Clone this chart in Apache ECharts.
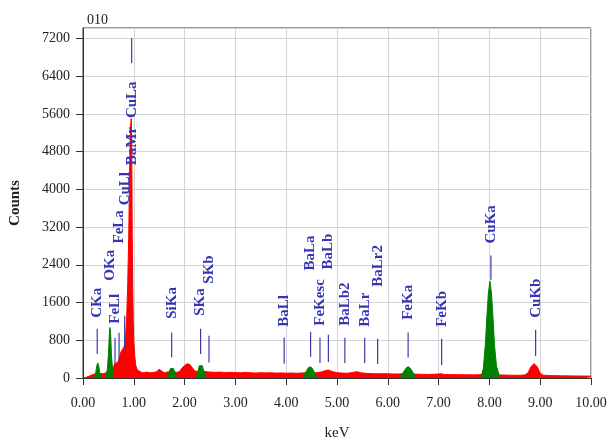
<!DOCTYPE html>
<html>
<head>
<meta charset="utf-8">
<script src="https://cdn.jsdelivr.net/npm/echarts@6/dist/echarts.min.js"></script>
<style>
html,body{margin:0;padding:0;background:#fff;}
#chart{width:609px;height:442px;}
</style>
</head>
<body>
<div id="chart"></div>
<script>
// ---- data ----
var title = '010';
var xTickLabels = ['0.00','1.00','2.00','3.00','4.00','5.00','6.00','7.00','8.00','9.00','10.00'];
var yTicks = [0,800,1600,2400,3200,4000,4800,5600,6400,7200];

// full spectrum (red): [keV, counts]
var spectrum = [
 [0.00,0],[0.05,10],[0.10,30],[0.15,55],[0.20,75],[0.25,90],[0.30,100],[0.35,95],[0.40,90],
 [0.45,110],[0.50,120],[0.55,130],[0.58,170],[0.60,220],[0.62,300],[0.65,320],[0.68,330],
 [0.70,380],[0.72,450],[0.75,560],[0.78,600],[0.80,640],[0.82,700],[0.84,900],[0.86,1300],
 [0.88,2000],[0.90,3000],[0.91,3800],[0.92,4600],[0.935,5300],[0.95,5500],[0.96,4800],
 [0.97,3000],[0.98,1900],[0.99,1200],[1.00,800],[1.02,450],[1.04,260],[1.07,170],[1.10,130],
 [1.15,120],[1.20,110],[1.25,125],[1.30,110],[1.35,115],[1.40,120],[1.45,135],[1.50,185],
 [1.53,200],[1.56,140],[1.60,110],[1.65,125],[1.70,130],[1.75,140],[1.80,130],[1.85,120],
 [1.90,140],[1.95,210],[2.00,265],[2.05,300],[2.10,290],[2.15,220],[2.20,150],[2.25,140],
 [2.30,150],[2.35,150],[2.40,140],[2.45,130],[2.50,125],[2.60,120],[2.70,125],[2.80,115],
 [2.90,120],[3.00,115],[3.10,110],[3.20,118],[3.30,110],[3.40,105],[3.50,112],[3.60,108],
 [3.70,110],[3.80,104],[3.90,108],[4.00,102],[4.10,106],[4.20,100],[4.30,105],[4.40,115],
 [4.50,120],[4.60,110],[4.70,130],[4.78,160],[4.83,170],[4.90,140],[5.00,110],[5.10,105],
 [5.20,100],[5.30,115],[5.39,135],[5.47,110],[5.60,95],[5.70,92],[5.80,90],[5.90,92],
 [6.00,88],[6.10,86],[6.20,85],[6.30,90],[6.40,95],[6.50,85],[6.60,80],[6.70,78],[6.80,76],
 [6.90,78],[7.00,85],[7.05,88],[7.12,75],[7.20,72],[7.30,70],[7.40,70],[7.50,68],[7.60,68],
 [7.70,66],[7.80,70],[7.90,80],[8.00,90],[8.10,80],[8.20,65],[8.30,62],[8.40,60],[8.50,58],
 [8.60,58],[8.70,65],[8.76,110],[8.82,240],[8.88,305],[8.94,240],[9.00,100],[9.06,60],
 [9.20,52],[9.30,50],[9.40,48],[9.50,46],[9.60,45],[9.70,44],[9.80,42],[9.90,42],[10.00,40]
];

// identified peaks (green): [keV, counts]
var peakCKa  = [[0.22,0],[0.25,110],[0.27,250],[0.29,320],[0.31,250],[0.33,110],[0.36,0]];
var peakOKa  = [[0.45,0],[0.48,200],[0.50,500],[0.52,950],[0.53,1070],[0.545,900],[0.56,500],[0.58,200],[0.60,0]];
var peakSiKa = [[1.65,0],[1.69,110],[1.72,200],[1.75,235],[1.78,200],[1.81,110],[1.86,0]];
var peakSKa  = [[2.22,0],[2.26,130],[2.29,260],[2.32,300],[2.35,260],[2.38,130],[2.43,0]];
var peakBaLa = [[4.32,0],[4.38,110],[4.43,210],[4.47,240],[4.51,210],[4.56,110],[4.61,0]];
var peakFeKa = [[6.24,0],[6.30,110],[6.36,210],[6.40,240],[6.44,210],[6.50,110],[6.56,0]];
var peakCuKa = [[7.83,0],[7.88,200],[7.92,700],[7.95,1300],[7.98,1800],[8.01,2050],[8.04,1800],
                [8.07,1300],[8.10,700],[8.14,250],[8.21,0]];

// element markers
var markerNames  = ['CKa','OKa','FeLl','FeLa','CuLl','BaMr','CuLa','SiKa','SKa','SKb','BaLl','BaLa','FeKesc','BaLb','BaLb2','BaLr','BaLr2','FeKa','FeKb','CuKa','CuKb'];
var markerKeV    = [0.28, 0.53, 0.63, 0.71, 0.82, 0.958,0.958,1.745,2.315,2.48, 3.96, 4.48, 4.665,4.83, 5.155,5.545,5.80, 6.40, 7.06, 8.03, 8.91];
var markerLow    = [511,  560,  300,  360,  640,  1915, 6680, 432,  511,  326,  304,  447,  319,  340,  319,  319,  298,  432,  277,  2085, 468];
var markerHigh   = [1043, 1040, 850,  960,  1320, 2450, 7210, 964,  1043, 894,  858,  979,  858,  915,  851,  851,  830,  964,  830,  2596, 1021];
var labelBottom  = [1277, 2064, 1150, 2851, 3660, 4510, 5510, 1256, 1319, 2000, 1085, 2277, 1107, 2298, 1107, 1085, 1936, 1234, 1085, 2851, 1277];

// ---- chart ----
var chart = echarts.init(document.getElementById('chart'));
var serif = '"Liberation Serif","Times New Roman",serif';

function peakSeries(d){
  return {type:'line', data:d, symbol:'none', z:4,
    lineStyle:{color:'#008000', width:1}, itemStyle:{color:'#008000'},
    areaStyle:{color:'#008000', opacity:1}, silent:true, animation:false};
}

var markerData = markerNames.map(function(n,i){
  return [markerKeV[i], markerLow[i], markerHigh[i], labelBottom[i], n];
});

var option = {
  animation:false,
  backgroundColor:'#ffffff',
  title:{text:title, left:82, top:8, textStyle:{fontFamily:serif, fontSize:14, fontWeight:'normal', color:'#222'}},
  grid:{left:83, right:18, top:28, bottom:64, outerBoundsMode:'none', containLabel:false,
        show:true, borderColor:'#333', borderWidth:1, backgroundColor:'transparent'},
  xAxis:{
    type:'value', min:0, max:10, interval:1,
    name:'keV', nameLocation:'middle', nameGap:48,
    nameTextStyle:{fontFamily:serif, fontSize:15, color:'#222'},
    axisLine:{show:true, lineStyle:{color:'#333', width:1}},
    axisTick:{show:true, length:7, lineStyle:{color:'#333'}},
    axisLabel:{fontFamily:serif, fontSize:14, color:'#222', margin:18,
      formatter:function(v){ var i=Math.round(v); return xTickLabels[i]!==undefined?xTickLabels[i]:''; }},
    splitLine:{show:true, lineStyle:{color:'#d4d4d4', width:1}}
  },
  yAxis:{
    type:'value', min:0, max:7420, interval:800,
    name:'Counts', nameLocation:'middle', nameGap:60,
    nameTextStyle:{fontFamily:serif, fontSize:15, fontWeight:'bold', color:'#222'},
    axisLine:{show:true, lineStyle:{color:'#333', width:1}},
    axisTick:{show:true, length:7, lineStyle:{color:'#333'}},
    axisLabel:{fontFamily:serif, fontSize:14, color:'#222', margin:13, showMaxLabel:false,
      formatter:function(v){ return yTicks.indexOf(v)>=0 ? String(v) : ''; }},
    splitLine:{show:true, lineStyle:{color:'#d4d4d4', width:1}}
  },
  series:[
    {type:'line', data:spectrum, symbol:'none', z:2,
     lineStyle:{color:'#ff0000', width:1}, itemStyle:{color:'#ff0000'},
     areaStyle:{color:'#ff0000', opacity:1}, silent:true},
    peakSeries(peakCKa), peakSeries(peakOKa), peakSeries(peakSiKa), peakSeries(peakSKa),
    peakSeries(peakBaLa), peakSeries(peakFeKa), peakSeries(peakCuKa),
    {type:'custom', z:3, silent:true, data:markerData,
     renderItem:function(params, api){
       var k = api.value(0);
       var p1 = api.coord([k, api.value(1)]);
       var p2 = api.coord([k, api.value(2)]);
       var pl = api.coord([k, api.value(3)]);
       return {type:'group', children:[
         {type:'line', shape:{x1:p1[0], y1:p1[1], x2:p2[0], y2:p2[1]},
          style:{stroke:'#3c3ca8', lineWidth:1.2}},
         {type:'text', x:pl[0], y:pl[1], rotation:Math.PI/2,
          style:{text:markerData[params.dataIndex][4], fill:'#3434b4',
                 font:'bold 15px ' + serif, align:'left', verticalAlign:'middle'}}
       ]};
     }}
  ]
};
chart.setOption(option);
</script>
</body>
</html>
